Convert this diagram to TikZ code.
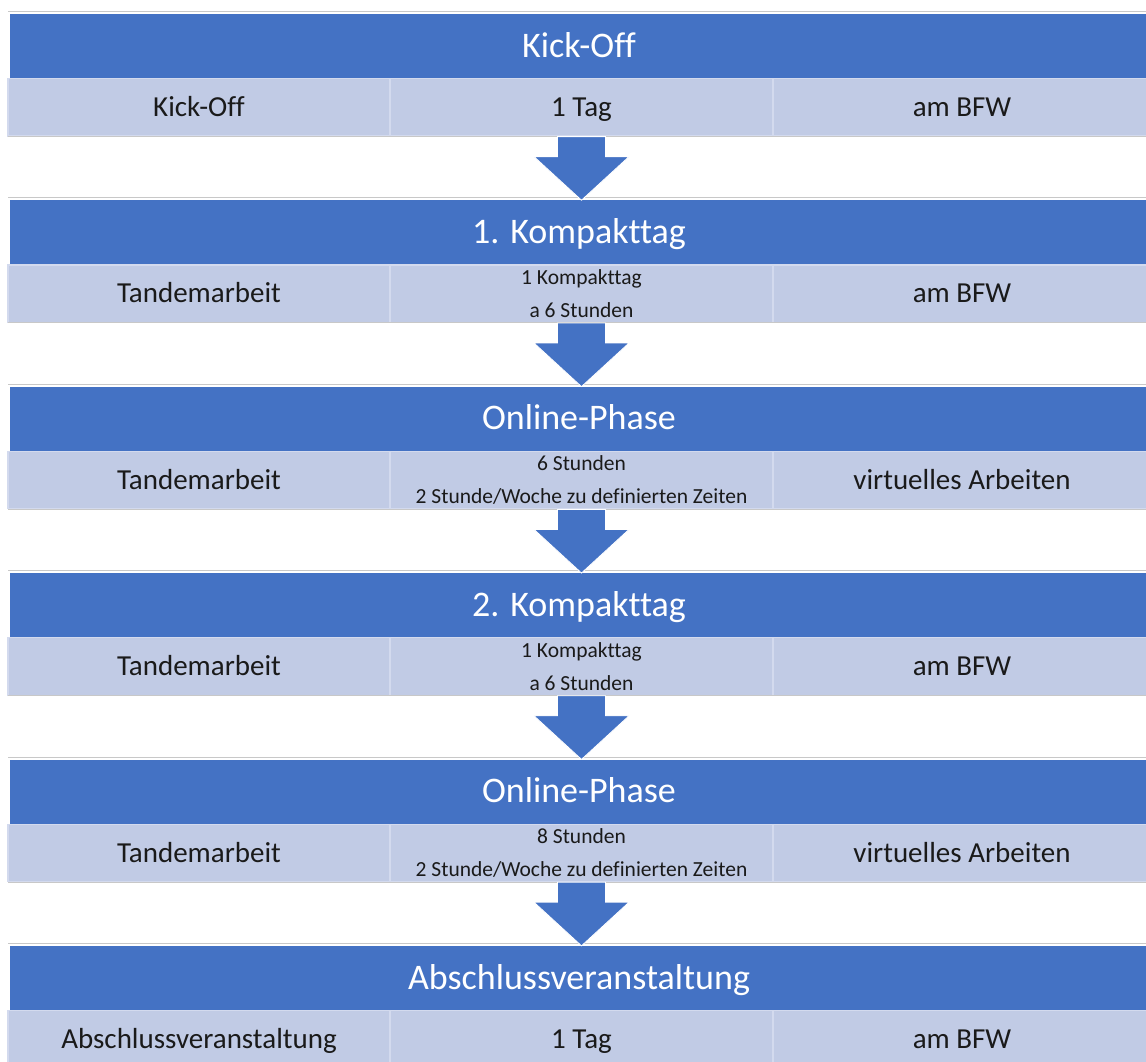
\documentclass[tikz,border=0pt]{standalone}
\usepackage{fontspec}
\setmainfont{Carlito}[Ligatures=NoCommon]
\usetikzlibrary{calc}
\definecolor{hdrblue}{HTML}{4472C4}
\definecolor{rowlight}{HTML}{C1CBE5}
\definecolor{rowedge}{HTML}{D3DAEE}
\definecolor{sepgray}{HTML}{C8C8C8}
\definecolor{txtdark}{HTML}{1A1A1A}
\tikzset{
  hdr/.style={fill=hdrblue, draw=none, text=white, inner sep=0pt,
    minimum width=1138pt, minimum height=64.5pt,
    text height=24pt, text depth=2.5pt,
    font=\fontsize{36}{40}\selectfont},
  cell/.style={fill=rowlight, draw=rowedge, line width=1.2pt, text=txtdark,
    inner sep=0pt, minimum height=57.5pt, align=center,
    font=\fontsize{29}{33}\selectfont},
  oneline/.style={text height=19pt, text depth=0.5pt},
  twoline/.style={font=\fontsize{21.5}{33}\selectfont},
  sepline/.style={draw=sepgray, line width=1pt},
  arrowfill/.style={fill=hdrblue, draw=white, line width=0.8pt, line join=miter}
}
\newcommand{\phaseblock}[7]{%
  \draw[sepline] (8,#2-2.5) -- (1146,#2-2.5);
  \node[hdr] (h#1) at (579,#2+32.25) {#3};
  \node[cell, oneline, minimum width=382pt] (a#1) at (199,#2+93.25) {#4};
  \node[cell, #7, minimum width=383pt] (k#1) at (581.5,#2+93.25) {#5};
  \node[cell, oneline, minimum width=378pt] (z#1) at (962,#2+93.25) {#6};
  \draw[sepline] (8,#2+122.5) -- (1146,#2+122.5);
}
\newcommand{\blockarrow}[2]{%
  \draw[arrowfill] ($(#1.south)+(-24,0)$) -- ($(#1.south)+(24,0)$)
    -- ($(#1.south)+(24,20)$) -- ($(#1.south)+(47.5,20)$)
    -- (#1.south |- #2.north)
    -- ($(#1.south)+(-47.5,20)$) -- ($(#1.south)+(-24,20)$) -- cycle;
}
\begin{document}
\begin{tikzpicture}[x=1pt,y=-1pt]
\useasboundingbox (0,0) rectangle (1146,1061);
\clip (0,0) rectangle (1146,1061);
\phaseblock{1}{14}{Kick-Off}{Kick-Off}{1 Tag}{am BFW}{oneline}
\phaseblock{2}{200.4}{1. Kompakttag}{Tandemarbeit}{1 Kompakttag\\a 6 Stunden}{am BFW}{twoline}
\phaseblock{3}{386.8}{Online-Phase}{Tandemarbeit}{6 Stunden\\2 Stunde/Woche zu definierten Zeiten}{virtuelles Arbeiten}{twoline}
\phaseblock{4}{573.2}{2. Kompakttag}{Tandemarbeit}{1 Kompakttag\\a 6 Stunden}{am BFW}{twoline}
\phaseblock{5}{759.6}{Online-Phase}{Tandemarbeit}{8 Stunden\\2 Stunde/Woche zu definierten Zeiten}{virtuelles Arbeiten}{twoline}
\phaseblock{6}{946}{Abschlussveranstaltung}{Abschlussveranstaltung}{1 Tag}{am BFW}{oneline}
\blockarrow{k1}{h2}
\blockarrow{k2}{h3}
\blockarrow{k3}{h4}
\blockarrow{k4}{h5}
\blockarrow{k5}{h6}
\end{tikzpicture}
\end{document}
